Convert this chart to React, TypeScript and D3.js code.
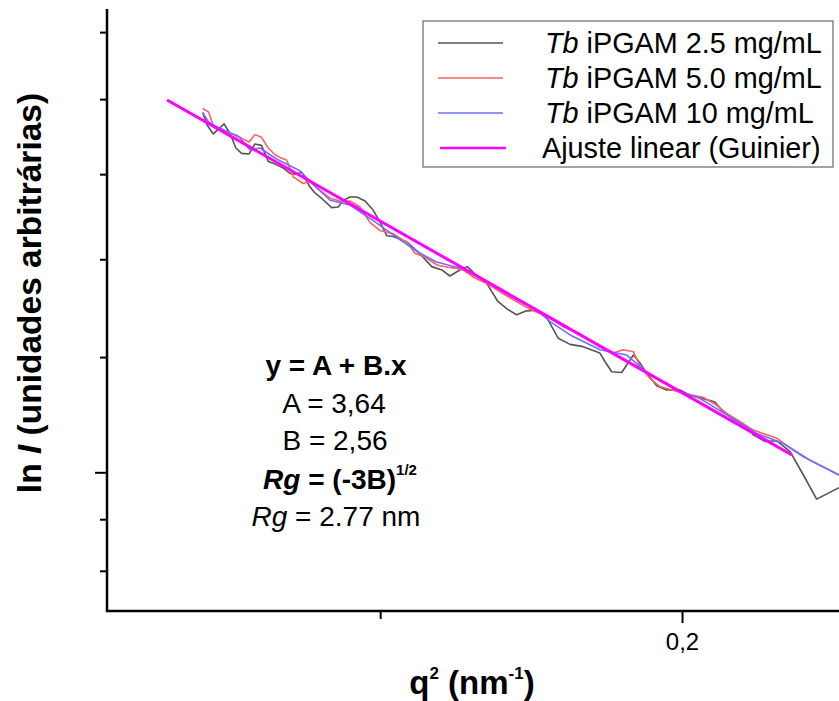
import { useEffect, useRef } from "react";
import * as d3 from "d3";

const WIDTH = 839;
const HEIGHT = 701;
const FONT = "'Liberation Sans', Arial, Helvetica, sans-serif";

// [q² (nm^-2), ln I]
const tb25: [number, number][] = [
  [0.0412, 3.546], [0.0427, 3.527], [0.0447, 3.514], [0.0483, 3.529], [0.0502, 3.515],
  [0.0522, 3.493], [0.0541, 3.485], [0.0565, 3.484], [0.0585, 3.499], [0.0607, 3.497],
  [0.0629, 3.473], [0.0652, 3.469], [0.0679, 3.463], [0.0701, 3.455], [0.072, 3.454],
  [0.074, 3.457], [0.0767, 3.435], [0.0784, 3.426], [0.0806, 3.418], [0.0839, 3.404],
  [0.0861, 3.405], [0.0878, 3.415], [0.09, 3.42], [0.0923, 3.42], [0.095, 3.414],
  [0.0977, 3.4], [0.0999, 3.383], [0.1022, 3.362], [0.1043, 3.361], [0.1088, 3.353],
  [0.1132, 3.335], [0.1171, 3.316], [0.1204, 3.311], [0.1231, 3.302], [0.1264, 3.311],
  [0.1289, 3.316], [0.1314, 3.305], [0.1353, 3.291], [0.139, 3.264], [0.142, 3.253],
  [0.1452, 3.244], [0.1485, 3.25], [0.152, 3.251], [0.1552, 3.24], [0.159, 3.209],
  [0.1629, 3.2], [0.1668, 3.197], [0.1728, 3.187], [0.1745, 3.174], [0.1767, 3.159],
  [0.18, 3.158], [0.1839, 3.184], [0.1861, 3.172], [0.1883, 3.157], [0.1916, 3.138],
  [0.1949, 3.132], [0.1993, 3.132], [0.2026, 3.124], [0.207, 3.119], [0.2109, 3.114],
  [0.2137, 3.099], [0.2175, 3.087], [0.2214, 3.077], [0.2236, 3.065], [0.2275, 3.055],
  [0.2314, 3.056], [0.2358, 3.04], [0.2402, 3.005], [0.2446, 2.969], [0.252, 2.986],
];

const tb50: [number, number][] = [
  [0.0412, 3.552], [0.0431, 3.547], [0.0447, 3.527], [0.0464, 3.522], [0.0502, 3.515],
  [0.0525, 3.512], [0.0547, 3.506], [0.0566, 3.502], [0.0585, 3.513], [0.0607, 3.509],
  [0.0629, 3.493], [0.0652, 3.483], [0.0668, 3.479], [0.069, 3.475], [0.0712, 3.45],
  [0.0745, 3.44], [0.0767, 3.443], [0.0801, 3.43], [0.0834, 3.418], [0.0873, 3.413],
  [0.09, 3.414], [0.0933, 3.405], [0.0966, 3.382], [0.0999, 3.37], [0.1043, 3.365],
  [0.1092, 3.351], [0.1115, 3.336], [0.1149, 3.33], [0.119, 3.318], [0.1225, 3.315],
  [0.1258, 3.313], [0.1275, 3.311], [0.1314, 3.299], [0.1357, 3.29], [0.1402, 3.277],
  [0.1447, 3.265], [0.149, 3.254], [0.1534, 3.245], [0.1574, 3.236], [0.1607, 3.226],
  [0.1662, 3.216], [0.1695, 3.206], [0.1728, 3.196], [0.1772, 3.187], [0.1805, 3.192],
  [0.1839, 3.189], [0.1861, 3.167], [0.1894, 3.149], [0.1927, 3.137], [0.1966, 3.132],
  [0.2015, 3.126], [0.207, 3.121], [0.2115, 3.109], [0.2148, 3.097], [0.2192, 3.085],
  [0.2236, 3.072], [0.2281, 3.065], [0.2314, 3.06], [0.2358, 3.045], [0.2402, 3.032],
  [0.2446, 3.022], [0.252, 3.005],
];

const tb10: [number, number][] = [
  [0.0412, 3.546], [0.0431, 3.532], [0.0458, 3.525], [0.0502, 3.516], [0.0536, 3.508],
  [0.0569, 3.49], [0.0602, 3.493], [0.0635, 3.483], [0.0663, 3.475], [0.0734, 3.459],
  [0.0784, 3.436], [0.0834, 3.415], [0.09, 3.408], [0.0989, 3.381], [0.1066, 3.356],
  [0.1132, 3.336], [0.1187, 3.323], [0.1287, 3.311], [0.1342, 3.296], [0.143, 3.272],
  [0.1519, 3.251], [0.1563, 3.234], [0.1629, 3.214], [0.1728, 3.192], [0.1817, 3.184],
  [0.1894, 3.154], [0.1982, 3.132], [0.206, 3.119], [0.2159, 3.092], [0.2247, 3.067],
  [0.2336, 3.052], [0.2424, 3.027], [0.252, 3.005],
];

// Guinier fit: ln I = A + B.q²
const fitA = 3.64;
const fitB = -2.56;
const fitQ2 = [0.0294, 0.2364];

const xMinorTicks = [0.1];
const xMajorTicks = [0.2];
const xTickLabels = ["0,2"];
const yMinorTicks = [3.666, 3.566, 3.454, 3.327, 3.181, 2.939, 2.862];
const yMajorTicks = [3.009];

const seriesNames = ["iPGAM 2.5 mg/mL", "iPGAM 5.0 mg/mL", "iPGAM 10 mg/mL"];
const seriesColors = ["#555555", "#ff6060", "#6f6fff"];
const fitColor = "#ff00ff";

function App() {
  const svgRef = useRef<SVGSVGElement>(null);

  useEffect(() => {
    const svg = d3.select(svgRef.current);
    svg.selectAll("*").remove();

    const left = 107, right = 839, top = 9, bottom = 611;
    const x = d3.scaleLinear().domain([0.0095, 0.252]).range([left, right]);
    const y = d3.scaleLinear().domain([2.802, 3.7005]).range([bottom, top]);

    const line = d3.line<[number, number]>().x(d => x(d[0])).y(d => y(d[1]));

    const plot = svg.append("g");
    [tb25, tb50, tb10].forEach((data, i) => {
      plot.append("path")
        .attr("d", line(data))
        .attr("fill", "none")
        .attr("stroke", seriesColors[i])
        .attr("stroke-width", 1.6)
        .attr("stroke-linejoin", "round");
    });
    const fitData = fitQ2.map(q => [q, fitA + fitB * q] as [number, number]);
    plot.append("path")
      .attr("d", line(fitData))
      .attr("fill", "none")
      .attr("stroke", fitColor)
      .attr("stroke-width", 3);

    // axes
    const axisStyle = (g: any) => {
      g.select(".domain").remove();
      g.selectAll("line").attr("stroke", "#000").attr("stroke-width", 2);
    };
    svg.append("g").attr("transform", `translate(${left},0)`)
      .call(d3.axisLeft(y).tickValues(yMinorTicks).tickSize(7).tickFormat(() => ""))
      .call(axisStyle);
    svg.append("g").attr("transform", `translate(${left},0)`)
      .call(d3.axisLeft(y).tickValues(yMajorTicks).tickSize(12).tickFormat(() => ""))
      .call(axisStyle);
    svg.append("g").attr("transform", `translate(0,${bottom})`)
      .call(d3.axisBottom(x).tickValues(xMinorTicks).tickSize(8).tickFormat(() => ""))
      .call(axisStyle);
    const xMaj = svg.append("g").attr("transform", `translate(0,${bottom})`)
      .call(d3.axisBottom(x).tickValues(xMajorTicks).tickSize(12)
        .tickFormat((_d, i) => xTickLabels[i]))
      .call(axisStyle);
    xMaj.selectAll("text")
      .attr("font-family", FONT)
      .attr("font-size", 24)
      .attr("fill", "#000")
      .attr("dy", null)
      .attr("y", 39);

    svg.append("line")
      .attr("x1", left).attr("x2", left).attr("y1", top).attr("y2", bottom + 1)
      .attr("stroke", "#000").attr("stroke-width", 2.5);
    svg.append("line")
      .attr("x1", left - 1).attr("x2", right).attr("y1", bottom).attr("y2", bottom)
      .attr("stroke", "#000").attr("stroke-width", 2.5);

    // x axis title
    const xt = svg.append("text")
      .attr("x", 472).attr("y", 694)
      .attr("text-anchor", "middle")
      .attr("font-family", FONT).attr("font-weight", "bold").attr("font-size", 33);
    xt.append("tspan").text("q");
    xt.append("tspan").attr("font-size", 17).attr("dy", -15).text("2");
    xt.append("tspan").attr("dy", 15).text(" (nm");
    xt.append("tspan").attr("font-size", 17).attr("dy", -15).text("-1");
    xt.append("tspan").attr("dy", 15).text(")");

    // y axis title
    const yt = svg.append("text")
      .attr("transform", "translate(41,293) rotate(-90)")
      .attr("text-anchor", "middle")
      .attr("font-family", FONT).attr("font-weight", "bold").attr("font-size", 33.5);
    yt.append("tspan").text("ln ");
    yt.append("tspan").attr("font-style", "italic").text("I");
    yt.append("tspan").text(" (unidades arbitrárias)");

    // legend
    const lg = svg.append("g");
    lg.append("rect")
      .attr("x", 423).attr("y", 21).attr("width", 410).attr("height", 146)
      .attr("fill", "#fff").attr("stroke", "#666").attr("stroke-width", 1.2);
    const rowY = [43, 78, 113, 148];
    seriesNames.forEach((name, i) => {
      lg.append("line")
        .attr("x1", 438).attr("x2", 503).attr("y1", rowY[i]).attr("y2", rowY[i])
        .attr("stroke", seriesColors[i]).attr("stroke-width", 1.5);
      const t = lg.append("text")
        .attr("x", 545).attr("y", rowY[i] + 10)
        .attr("font-family", FONT).attr("font-size", 28.8);
      t.append("tspan").attr("font-style", "italic").text("Tb");
      t.append("tspan").text(" " + name);
    });
    lg.append("line")
      .attr("x1", 440).attr("x2", 506).attr("y1", rowY[3]).attr("y2", rowY[3])
      .attr("stroke", fitColor).attr("stroke-width", 2.5);
    lg.append("text")
      .attr("x", 542).attr("y", rowY[3] + 10)
      .attr("font-family", FONT).attr("font-size", 28.8)
      .text("Ajuste linear (Guinier)");

    // fit annotation
    const ann = svg.append("g")
      .attr("font-family", FONT).attr("font-size", 28).attr("text-anchor", "middle");
    ann.append("text").attr("x", 336).attr("y", 375).attr("font-weight", "bold")
      .text("y = A + B.x");
    ann.append("text").attr("x", 334).attr("y", 413).text("A = 3,64");
    ann.append("text").attr("x", 335).attr("y", 450).text("B = 2,56");
    const rg1 = ann.append("text").attr("x", 340).attr("y", 489).attr("font-weight", "bold");
    rg1.append("tspan").attr("font-style", "italic").text("Rg");
    rg1.append("tspan").text(" = (-3B)");
    rg1.append("tspan").attr("font-size", 15).attr("dy", -14).text("1/2");
    const rg2 = ann.append("text").attr("x", 336).attr("y", 526);
    rg2.append("tspan").attr("font-style", "italic").text("Rg");
    rg2.append("tspan").text(" = 2.77 nm");
  }, []);

  return (
    <svg
      ref={svgRef}
      width={WIDTH}
      height={HEIGHT}
      style={{ position: "absolute", left: 0, top: 0, background: "#fff" }}
    />
  );
}

export default App;
